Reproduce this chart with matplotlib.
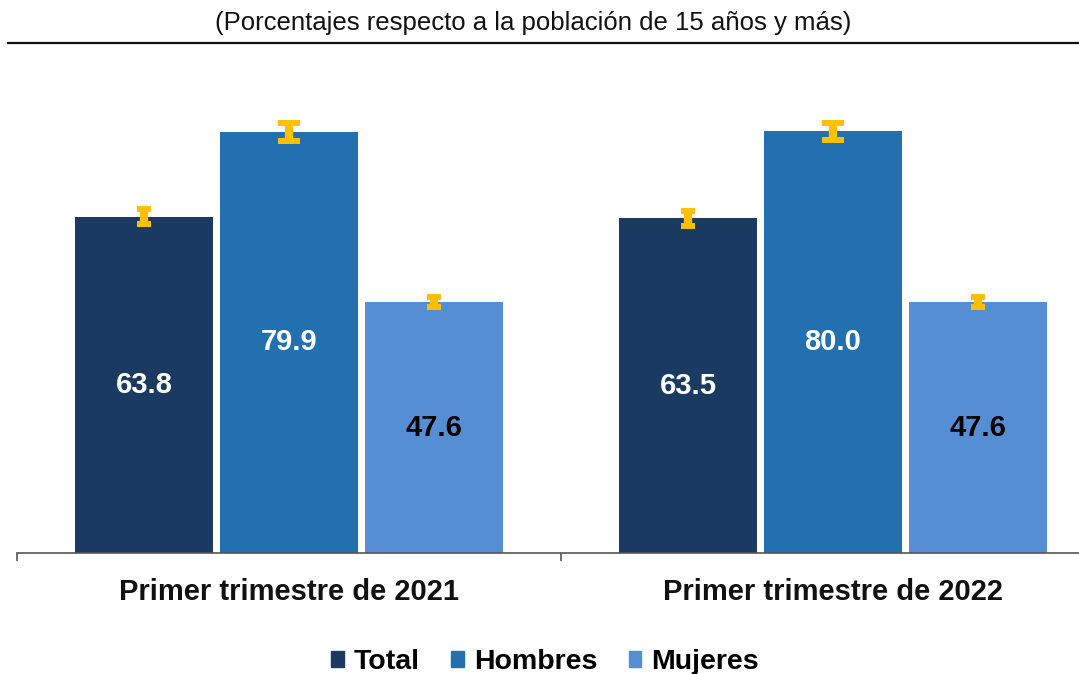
import numpy as np
import matplotlib
matplotlib.use('Agg')
import matplotlib.pyplot as plt
from matplotlib.patches import Patch

plt.rcParams['font.family'] = ['Liberation Sans', 'DejaVu Sans']

# Data
periods = ['Primer trimestre de 2021', 'Primer trimestre de 2022']
series = ['Total', 'Hombres', 'Mujeres']
total = [63.8, 63.5]
hombres = [79.9, 80.0]
mujeres = [47.6, 47.6]
err_total = [1.4, 1.4]
err_hombres = [1.75, 1.6]
err_mujeres = [1.0, 1.0]

colors = ['#1B3A62', '#2270B0', '#558ED5']
label_colors = ['white', 'white', 'black']
err_color = '#FFC000'
capsizes = [5, 8, 5]

W, H = 1079, 674
fig = plt.figure(figsize=(W / 100, H / 100), dpi=100)

# axes spans one category width past the right edge (the source is cropped)
left_px, right_px, top_px, base_px = 17, 1105, 50, 553
ax = fig.add_axes([left_px / W, (H - base_px) / H,
                   (right_px - left_px) / W, (base_px - top_px) / H])
ax.set_xlim(-0.5, 1.5)
ax.set_ylim(0, (base_px - top_px) / 5.27)

x = np.arange(len(periods))
width = 0.254
step = 0.2665
values = [total, hombres, mujeres]
errors = [err_total, err_hombres, err_mujeres]

for i, (vals, errs) in enumerate(zip(values, errors)):
    pos = x + (i - 1) * step
    ax.bar(pos, vals, width, color=colors[i], zorder=2)
    ax.errorbar(pos, vals, yerr=errs, fmt='none', ecolor=err_color,
                elinewidth=6, capsize=capsizes[i], capthick=4.3, zorder=3)
    for p, v in zip(pos, vals):
        ax.text(p, v / 2, f'{v:.1f}', ha='center', va='center',
                color=label_colors[i], fontsize=21, fontweight='bold', zorder=4)

for s in ['top', 'right', 'left']:
    ax.spines[s].set_visible(False)
ax.spines['bottom'].set_color('#555555')
ax.spines['bottom'].set_linewidth(1.2)
ax.set_yticks([])
ax.set_xticks([-0.5, 0.5, 1.5])
ax.set_xticklabels([])
ax.tick_params(axis='x', length=6, width=1.2, color='#555555')
for xi, lab in zip(x, periods):
    ax.text(xi, -7.4, lab, ha='center', va='center', fontsize=21,
            fontweight='bold', color='#111111')

# header
fig.text(533 / W, 1 - 23 / H, '(Porcentajes respecto a la población de 15 años y más)',
         ha='center', va='center', fontsize=18.5, color='#111111')
fig.add_artist(plt.Line2D([8 / W, 1.0], [1 - 43 / H, 1 - 43 / H],
                          color='#111111', linewidth=1.6))

handles = [Patch(color=c, label=s) for c, s in zip(colors, series)]
fig.legend(handles=handles, loc='center', bbox_to_anchor=(545 / W, 1 - 662 / H),
           ncol=3, frameon=False, handlelength=0.45, handleheight=0.5,
           handletextpad=0.35, columnspacing=1.1,
           prop={'size': 20.5, 'weight': 'bold'})

fig.savefig('out.png', dpi=100)
